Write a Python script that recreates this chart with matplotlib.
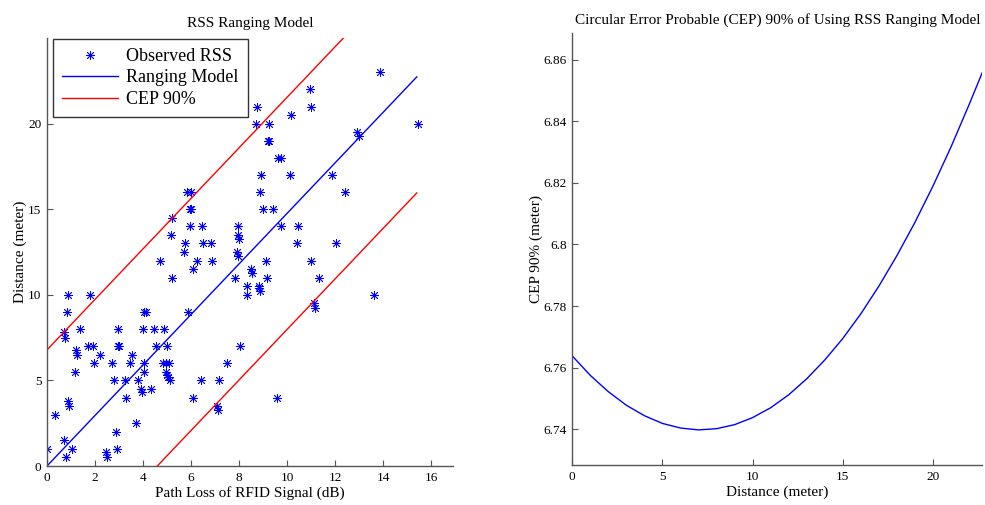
import numpy as np
import matplotlib.pyplot as plt

plt.rcParams['font.family'] = ['Liberation Serif', 'DejaVu Serif']

# observed RSS samples: path loss (dB) vs measured distance (m)
path_loss = [13.88, 10.96, 8.74, 10.99, 10.18, 8.71, 9.25, 15.45, 12.93, 13.0,
             9.2, 9.26, 9.61, 9.76, 8.91, 10.1, 11.89, 5.85, 5.99, 8.88, 12.39,
             5.95, 6.01, 8.99, 9.42, 5.21, 5.97, 6.47, 7.96, 9.76, 10.47,
             5.18, 7.97, 7.99, 5.76, 6.49, 6.84, 10.43, 12.04, 5.71, 7.93, 7.96,
             4.69, 6.24, 6.86, 9.1, 10.98, 6.07, 8.48, 8.53, 5.21, 7.85, 9.15, 11.33,
             8.35, 8.82, 8.85, 8.88, 0.87, 1.8, 8.35, 13.6, 11.1, 11.15,
             0.82, 4.02, 4.12, 5.88, 1.39, 2.97, 3.98, 4.44, 4.86, 0.72, 0.77,
             1.72, 1.92, 2.94, 3.0, 4.54, 5.01, 8.02, 1.22, 1.26, 2.2, 3.54,
             1.95, 2.72, 3.47, 4.05, 4.85, 4.97, 5.1, 7.49, 1.16, 4.02, 4.97, 5.0, 5.04,
             2.77, 3.24, 3.81, 5.13, 6.43, 7.16, 3.92, 3.96, 4.33, 3.29, 6.09, 9.57,
             0.88, 0.93, 7.1, 7.13, 0.32, 3.72, 2.89, 0.72, 0.0, 1.04, 2.91,
             2.45, 2.5, 0.78]
distance = [23, 22, 21, 21, 20.5, 20, 20, 20, 19.5, 19.3,
            19, 19, 18, 18, 17, 17, 17, 16, 16, 16, 16,
            15, 15, 15, 15, 14.5, 14, 14, 14, 14, 14,
            13.5, 13.5, 13.25, 13, 13, 13, 13, 13, 12.5, 12.5, 12.25,
            12, 12, 12, 12, 12, 11.5, 11.5, 11.3, 11, 11, 11, 11,
            10.5, 10.5, 10.4, 10.25, 10, 10, 10, 10, 9.5, 9.25,
            9, 9, 9, 9, 8, 8, 8, 8, 8, 7.8, 7.5,
            7, 7, 7, 7, 7, 7, 7, 6.8, 6.5, 6.5, 6.5,
            6, 6, 6, 6, 6, 6, 6, 6, 5.5, 5.5, 5.5, 5.3, 5.2,
            5, 5, 5, 5, 5, 5, 4.5, 4.3, 4.5, 4, 4, 4,
            3.8, 3.5, 3.5, 3.3, 3, 2.5, 2, 1.5, 1, 1, 1,
            0.8, 0.5, 0.5]

# fitted ranging model and its CEP 90% band
model_x = [0.0, 15.4]
model_y = [0.0, 22.73]
cep_offset = 6.78

# CEP 90% along distance
cep_dist = [0, 1, 2, 3, 4, 5, 6, 7, 8, 9, 10, 11, 12, 13, 14, 15, 16, 17, 18,
            19, 20, 21, 22, 22.73]
cep_val = [6.7638, 6.7575, 6.7522, 6.7478, 6.7444, 6.7419, 6.7404, 6.7398,
           6.7402, 6.7415, 6.7438, 6.7470, 6.7512, 6.7564, 6.7625, 6.7695,
           6.7775, 6.7865, 6.7964, 6.8072, 6.8190, 6.8317, 6.8454, 6.8558]

fig = plt.figure(figsize=(9.85, 5.05), dpi=100)
ax1 = fig.add_axes([0.0477, 0.0772, 0.412, 0.8475])
ax2 = fig.add_axes([0.581, 0.0792, 0.4162, 0.855])


def style(ax):
    for s in ['top', 'right']:
        ax.spines[s].set_visible(False)
    for s in ['left', 'bottom']:
        ax.spines[s].set_color('#555555')
        ax.spines[s].set_linewidth(1.0)
    ax.tick_params(direction='in', length=4, color='#555555', labelsize=9.5,
                   pad=4)


# left: scatter + model lines
my = np.array(model_y)
ax1.plot(path_loss, distance, linestyle='none', marker=(8, 2, 0), ms=6.5,
         mew=0.6, color='blue', label='Observed RSS')
ax1.plot(model_x, my, color='blue', lw=1.0, label='Ranging Model')
ax1.plot(model_x, my + cep_offset, color='red', lw=1.0, label='CEP 90%')
ax1.plot(model_x, my - cep_offset, color='red', lw=1.0)
ax1.set_xlim(0, 16.9)
ax1.set_ylim(0, 25)
ax1.set_xticks(np.arange(0, 17, 2))
ax1.set_yticks([0, 5, 10, 15, 20])
style(ax1)
ax1.set_title('RSS Ranging Model', fontsize=11, pad=8)
ax1.set_xlabel('Path Loss of RFID Signal (dB)', fontsize=11, labelpad=2)
ax1.set_ylabel('Distance (meter)', fontsize=11, labelpad=1)
leg = ax1.legend(loc='upper left', bbox_to_anchor=(0.015, 0.998), fontsize=13,
                 fancybox=False, framealpha=1, borderpad=0.5,
                 labelspacing=0.25, handlelength=3.1, handletextpad=0.45,
                 borderaxespad=0)
leg.get_frame().set_edgecolor('#333333')
leg.get_frame().set_linewidth(1.0)

# right: CEP curve
ax2.plot(cep_dist, cep_val, color='blue', lw=1.0)
ax2.set_xlim(0, 22.73)
ax2.set_ylim(6.7284, 6.8686)
ax2.set_xticks([0, 5, 10, 15, 20])
ax2.set_yticks([6.74, 6.76, 6.78, 6.80, 6.82, 6.84, 6.86])
ax2.set_yticklabels(['6.74', '6.76', '6.78', '6.8', '6.82', '6.84', '6.86'])
style(ax2)
ax2.set_title('Circular Error Probable (CEP) 90% of Using RSS Ranging Model',
              fontsize=11, pad=7)
ax2.set_xlabel('Distance (meter)', fontsize=11, labelpad=2)
ax2.set_ylabel('CEP 90% (meter)', fontsize=11, labelpad=0)

fig.savefig('out.png', dpi=100)
